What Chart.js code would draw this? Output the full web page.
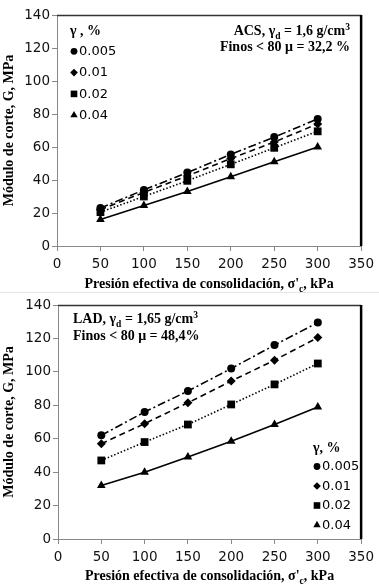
<!DOCTYPE html>
<html>
<head>
<meta charset="utf-8">
<script src="https://cdn.jsdelivr.net/npm/chart.js@4"></script>
<style>
  body { margin: 0; background: #fff; }
  .wrap { position: absolute; left: 0; width: 379px; }
  #w1 { top: 0; height: 293px; border-bottom: 1px solid #e6e6e6; box-sizing: border-box; }
  #w2 { top: 293px; height: 294px; }
</style>
</head>
<body>
<div class="wrap" id="w1"><canvas id="c1" width="379" height="293"></canvas></div>
<div class="wrap" id="w2"><canvas id="c2" width="379" height="294"></canvas></div>
<script>
// x values (effective consolidation pressure, kPa)
const pressures = [50, 100, 150, 200, 250, 300];
const strains = ['0.005', '0.01', '0.02', '0.04'];
const xTicks = [0, 50, 100, 150, 200, 250, 300, 350];
const yTicks = [0, 20, 40, 60, 80, 100, 120, 140];

// ACS  G (MPa)
const acs005 = [23, 34, 44.5, 55.5, 66, 77];
const acs001 = [22, 32.5, 42.5, 53, 63, 74];
const acs002 = [20.5, 30, 39.5, 49.5, 59.5, 69.5];
const acs004 = [16, 24.5, 33, 42, 51, 60];

// LAD  G (MPa)
const lad005 = [62, 76, 88.5, 102, 116, 129.5];
const lad001 = [57, 69, 81.5, 94.5, 107, 120.5];
const lad002 = [47, 58, 68.5, 80.5, 92.5, 105];
const lad004 = [32, 40, 49, 58.5, 68.5, 79];

const styles = [
  { pointStyle: 'circle', radius: 4, dash: [8, 3, 2, 3] },
  { pointStyle: 'rectRot', radius: 4.5, dash: [6, 4] },
  { pointStyle: 'rect', radius: 5.5, dash: [1.5, 2] },
  { pointStyle: 'triangle', radius: 5, dash: [] }
];

const serif = '"Liberation Serif", "Times New Roman", serif';
const sans = '"DejaVu Sans", sans-serif';
const titleSize = 14;

// draws text with sub/superscript parts, y = baseline
function richText(ctx, parts, x, y, align, size) {
  const fontOf = s => 'bold ' + s + 'px ' + serif;
  let total = 0;
  parts.forEach(p => {
    ctx.font = fontOf(p[1] ? size * 0.68 : size);
    total += ctx.measureText(p[0]).width;
  });
  let cx = align === 'right' ? x - total : align === 'center' ? x - total / 2 : x;
  ctx.textAlign = 'left';
  ctx.textBaseline = 'alphabetic';
  parts.forEach(p => {
    const s = p[1] ? size * 0.68 : size;
    ctx.font = fontOf(s);
    const dy = p[1] === 'sub' ? size * 0.25 : p[1] === 'sup' ? -size * 0.38 : 0;
    ctx.fillText(p[0], cx, y + dy);
    cx += ctx.measureText(p[0]).width;
  });
}

function makeChart(id, series, cfg) {
  const datasets = series.map((vals, i) => ({
    label: strains[i],
    data: vals.map((v, j) => ({ x: pressures[j], y: v })),
    showLine: true,
    borderColor: '#000',
    backgroundColor: '#000',
    borderWidth: 1.6,
    borderDash: styles[i].dash,
    pointStyle: styles[i].pointStyle,
    pointRadius: styles[i].radius,
    pointBorderWidth: 0
  }));

  const extras = {
    id: 'extras',
    afterDraw(chart) {
      const ctx = chart.ctx;
      const a = chart.chartArea;
      ctx.save();
      // plot frame
      ctx.strokeStyle = '#333';
      ctx.lineWidth = 1.5;
      ctx.setLineDash([]);
      ctx.beginPath();
      ctx.moveTo(a.left, a.top + 0.5);
      ctx.lineTo(a.right, a.top + 0.5);
      ctx.stroke();
      ctx.strokeStyle = '#000';
      ctx.lineWidth = 2.5;
      ctx.beginPath();
      ctx.moveTo(a.right, a.top);
      ctx.lineTo(a.right, a.bottom);
      ctx.stroke();

      ctx.fillStyle = '#000';
      // x title
      richText(ctx, [['Presión efectiva de consolidación, σ\''], ['c', 'sub'], [', kPa']],
        (a.left + a.right) / 2, cfg.xTitleY, 'center', titleSize);
      // note
      cfg.note.forEach((line, k) => {
        richText(ctx, line, cfg.noteX, cfg.noteY + k * cfg.noteGap, cfg.noteAlign, titleSize);
      });
      // legend
      richText(ctx, [[cfg.legTitle]], cfg.legX - 4, cfg.legY + 4.5, 'left', titleSize);
      chart.data.datasets.forEach((ds, i) => {
        const yy = cfg.legY + (i + 1) * cfg.legGap;
        Chart.helpers.drawPoint(ctx, {
          pointStyle: ds.pointStyle,
          radius: ds.pointRadius * 0.85,
          rotation: 0,
          borderWidth: 0
        }, cfg.legX, yy);
        ctx.fillStyle = '#000';
        ctx.font = '13px ' + sans;
        ctx.textAlign = 'left';
        ctx.textBaseline = 'middle';
        ctx.fillText(ds.label, cfg.legX + 5, yy + 0.5);
      });
      ctx.restore();
    }
  };

  return new Chart(document.getElementById(id), {
    type: 'line',
    data: { datasets },
    options: {
      responsive: false,
      animation: false,
      layout: { padding: cfg.padding },
      plugins: { legend: { display: false }, tooltip: { enabled: false } },
      scales: {
        x: {
          type: 'linear', min: 0, max: 350,
          afterBuildTicks: s => { s.ticks = xTicks.map(v => ({ value: v })); },
          afterFit: s => { s.height = cfg.xHeight; },
          ticks: { color: '#111', font: { family: sans, size: 13.5 }, padding: 5 },
          grid: { drawOnChartArea: false, tickLength: 5, color: '#888' },
          border: { color: '#888' }
        },
        y: {
          min: 0, max: 140,
          afterBuildTicks: s => { s.ticks = yTicks.map(v => ({ value: v })); },
          afterFit: s => { s.width = cfg.yWidth; },
          ticks: { color: '#111', font: { family: sans, size: 13.5 }, padding: 2 },
          grid: { drawOnChartArea: false, tickLength: 5, color: '#888' },
          border: { color: '#888' },
          title: {
            display: true, text: 'Módulo de corte, G, MPa', color: '#000',
            font: { family: serif, size: titleSize, weight: 'bold' }, padding: { top: 1, bottom: 0 }
          }
        }
      }
    },
    plugins: [extras]
  });
}

makeChart('c1', [acs005, acs001, acs002, acs004], {
  padding: { left: 0, right: 12, top: 15, bottom: 0 },
  yWidth: 57, xHeight: 47, xTitleY: 288,
  note: [
    [['ACS, γ'], ['d', 'sub'], [' = 1,6 g/cm'], ['3', 'sup']],
    [['Finos < 80 μ = 32,2 %']]
  ],
  noteX: 350, noteY: 35, noteGap: 15.5, noteAlign: 'right',
  legTitle: 'γ , %', legX: 74, legY: 30, legGap: 21.3
});

makeChart('c2', [lad005, lad001, lad002, lad004], {
  padding: { left: 0, right: 16, top: 12, bottom: 0 },
  yWidth: 58, xHeight: 48, xTitleY: 287,
  note: [
    [['LAD, γ'], ['d', 'sub'], [' = 1,65 g/cm'], ['3', 'sup']],
    [['Finos < 80 μ = 48,4%']]
  ],
  noteX: 73, noteY: 30, noteGap: 17, noteAlign: 'left',
  legTitle: 'γ, %', legX: 317, legY: 154, legGap: 19.5
});
</script>
</body>
</html>
